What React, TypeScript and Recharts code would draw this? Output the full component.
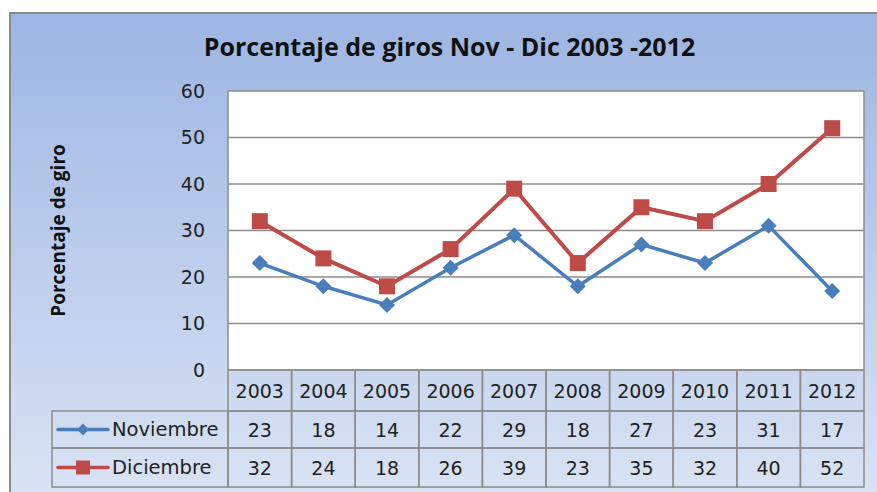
import { LineChart, Line, XAxis, YAxis, CartesianGrid } from "recharts";

const YEARS = ["2003", "2004", "2005", "2006", "2007", "2008", "2009", "2010", "2011", "2012"];
const NOVIEMBRE = [23, 18, 14, 22, 29, 18, 27, 23, 31, 17];
const DICIEMBRE = [32, 24, 18, 26, 39, 23, 35, 32, 40, 52];
const Y_TICKS = [0, 10, 20, 30, 40, 50, 60];

const W = 877;
const H = 492;
const PLOT_LEFT = 228;
const PLOT_RIGHT = 864;
const PLOT_TOP = 91;
const PLOT_BOTTOM = 370;
const BAND = (PLOT_RIGHT - PLOT_LEFT) / YEARS.length;
const ROW_Y = [370, 411, 448, 487];
const LEGEND_LEFT = 52;

const BLUE = "#4a7ebb";
const RED = "#be4b48";
const GRID = "#8c8c8c";
const TEXT = "#222";
const NUM_FONT = "'DejaVu Sans', sans-serif";

const data = YEARS.map((year, i) => ({ year, nov: NOVIEMBRE[i], dic: DICIEMBRE[i] }));

const diamond = (cx: number, cy: number, r: number) =>
  `M${cx},${cy - r} L${cx + r},${cy} L${cx},${cy + r} L${cx - r},${cy} Z`;

function DiamondDot(p: any) {
  return <path key={`d-${p.index}`} d={diamond(p.cx, p.cy, 8)} fill={BLUE} />;
}

function SquareDot(p: any) {
  return <rect key={`s-${p.index}`} x={p.cx - 8} y={p.cy - 8} width={16} height={16} fill={RED} />;
}

function LegendColumn({ right }: { right: number }) {
  const rows = [
    { name: "Noviembre", color: BLUE, top: ROW_Y[1], bottom: ROW_Y[2] },
    { name: "Diciembre", color: RED, top: ROW_Y[2], bottom: ROW_Y[3] },
  ];
  return (
    <g>
      {rows.map((r) => {
        const cy = (r.top + r.bottom) / 2;
        return (
          <g key={r.name}>
            <rect x={LEGEND_LEFT} y={r.top} width={right - LEGEND_LEFT} height={r.bottom - r.top} fill="none" stroke={GRID} strokeWidth={1.5} />
            <line x1={LEGEND_LEFT + 6} x2={LEGEND_LEFT + 56} y1={cy} y2={cy} stroke={r.color} strokeWidth={3.5} strokeLinecap="round" />
            {r.color === BLUE ? (
              <path d={diamond(LEGEND_LEFT + 31, cy, 6)} fill={BLUE} />
            ) : (
              <rect x={LEGEND_LEFT + 24} y={cy - 7} width={14} height={14} fill={RED} />
            )}
            <text x={LEGEND_LEFT + 60} y={cy} dominantBaseline="central" fontFamily={NUM_FONT} fontSize={19.5} fill={TEXT}>
              {r.name}
            </text>
          </g>
        );
      })}
    </g>
  );
}

function TableTick(props: any) {
  const { x, index, payload } = props;
  const x0 = x - BAND / 2;
  const cells = [payload.value, NOVIEMBRE[index], DICIEMBRE[index]];
  return (
    <g>
      {cells.map((v, r) => (
        <g key={r}>
          <rect x={x0} y={ROW_Y[r]} width={BAND} height={ROW_Y[r + 1] - ROW_Y[r]} fill="none" stroke={GRID} strokeWidth={1.5} />
          <text x={x} y={(ROW_Y[r] + ROW_Y[r + 1]) / 2} textAnchor="middle" dominantBaseline="central" fontFamily={NUM_FONT} fontSize={19} fill={TEXT}>
            {v}
          </text>
        </g>
      ))}
      {index === 0 && <LegendColumn right={x0} />}
    </g>
  );
}

export default function App() {
  return (
    <div style={{ position: "absolute", left: 0, top: 0, width: W, height: H, background: "#fff", overflow: "hidden" }}>
      <div
        style={{
          position: "absolute",
          left: 9,
          top: 12,
          width: W,
          height: H,
          border: "2px solid #8a8a8a",
          background: "linear-gradient(180deg, #9cb5e2 0%, #b9cbec 45%, #dbe4f3 100%)",
        }}
      />
      <div
        style={{
          position: "absolute",
          left: 11,
          top: 29,
          width: W,
          textAlign: "center",
          fontFamily: "'Open Sans', sans-serif",
          fontWeight: 700,
          fontSize: 25,
          color: "#111",
        }}
      >
        Porcentaje de giros Nov - Dic 2003 -2012
      </div>
      <div style={{ position: "absolute", left: 0, top: 0 }}>
        <LineChart
          width={W}
          height={H}
          data={data}
          margin={{ top: PLOT_TOP, right: W - PLOT_RIGHT, bottom: 0, left: 0 }}
        >
          <CartesianGrid
            fill="#fff"
            stroke={GRID}
            strokeWidth={1.5}
            vertical
            verticalPoints={[PLOT_RIGHT]}
          />
          <XAxis
            dataKey="year"
            height={H - PLOT_BOTTOM}
            axisLine={false}
            tickLine={false}
            interval={0}
            padding={{ left: BAND / 2, right: BAND / 2 }}
            tick={<TableTick />}
          />
          <YAxis
            width={PLOT_LEFT}
            domain={[0, 60]}
            ticks={Y_TICKS}
            tickLine={false}
            tickSize={0}
            tickMargin={23}
            axisLine={{ stroke: GRID, strokeWidth: 1.5 }}
            tick={{ fontFamily: NUM_FONT, fontSize: 19, fill: TEXT }}
            label={{
              value: "Porcentaje de giro",
              angle: -90,
              position: "insideLeft",
              offset: 58,
              style: { textAnchor: "middle", fontFamily: "'Open Sans', sans-serif", fontWeight: 700, fontSize: 19, fill: "#111" },
            }}
          />
          <Line dataKey="nov" stroke={BLUE} strokeWidth={3.5} dot={DiamondDot} activeDot={false} isAnimationActive={false} />
          <Line dataKey="dic" stroke={RED} strokeWidth={4} dot={SquareDot} activeDot={false} isAnimationActive={false} />
        </LineChart>
      </div>
    </div>
  );
}
